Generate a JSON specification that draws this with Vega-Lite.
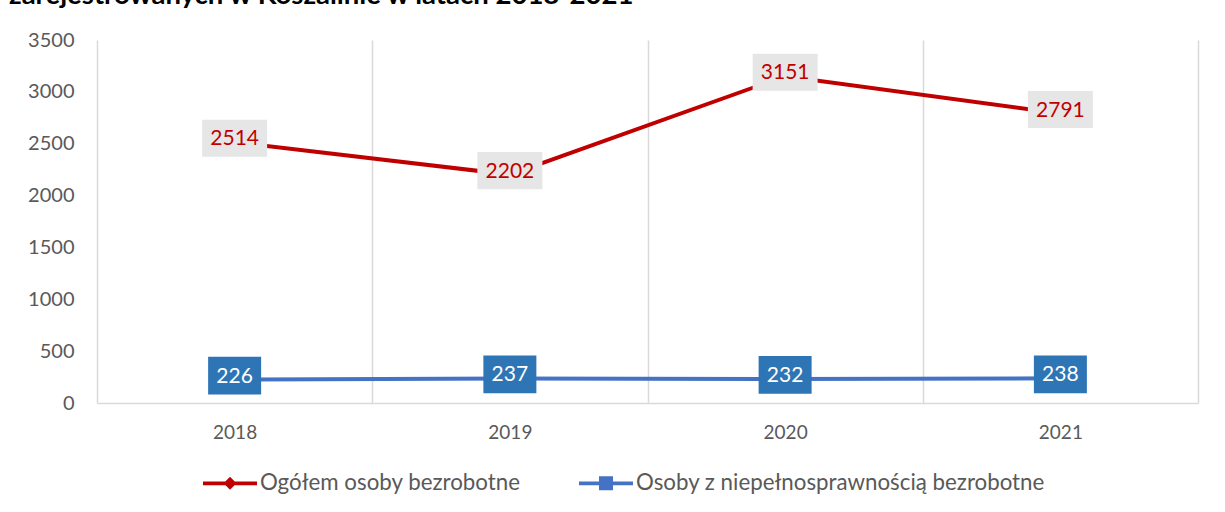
{
  "$schema": "https://vega.github.io/schema/vega-lite/v6.json",
  "width": 1101,
  "height": 363,
  "autosize": {"type": "none"},
  "padding": {"left": 97, "top": 40, "right": 27, "bottom": 109},
  "title": {
    "text": "zarejestrowanych w Koszalinie w latach 2018-2021",
    "anchor": "start",
    "frame": "group",
    "dx": -88,
    "offset": 8,
    "dy": 9,
    "baseline": "alphabetic",
    "font": "Lato",
    "fontSize": 27.5,
    "fontWeight": "bold",
    "color": "#000000"
  },
  "config": {
    "view": {"stroke": null},
    "font": "Lato"
  },
  "data": {
    "values": [
      {"rok": "2018", "seria": "Ogółem osoby bezrobotne", "wartosc": 2514},
      {"rok": "2019", "seria": "Ogółem osoby bezrobotne", "wartosc": 2202},
      {"rok": "2020", "seria": "Ogółem osoby bezrobotne", "wartosc": 3151},
      {"rok": "2021", "seria": "Ogółem osoby bezrobotne", "wartosc": 2791},
      {"rok": "2018", "seria": "Osoby z niepełnosprawnością bezrobotne", "wartosc": 226},
      {"rok": "2019", "seria": "Osoby z niepełnosprawnością bezrobotne", "wartosc": 237},
      {"rok": "2020", "seria": "Osoby z niepełnosprawnością bezrobotne", "wartosc": 232},
      {"rok": "2021", "seria": "Osoby z niepełnosprawnością bezrobotne", "wartosc": 238}
    ]
  },
  "encoding": {
    "x": {
      "field": "rok",
      "type": "ordinal",
      "scale": {"paddingInner": 0, "paddingOuter": 0},
      "axis": {
        "title": null,
        "labelAngle": 0,
        "domain": true,
        "domainColor": "#d9d9d9",
        "domainWidth": 1.5,
        "ticks": false,
        "grid": true,
        "gridColor": "#d9d9d9",
        "gridWidth": 1.5,
        "tickBand": "extent",
        "labelFont": "Lato",
        "labelFontSize": 19,
        "labelColor": "#595959",
        "labelPadding": 20
      }
    },
    "y": {
      "field": "wartosc",
      "type": "quantitative",
      "scale": {"domain": [0, 3500], "nice": false},
      "axis": {
        "title": null,
        "domain": false,
        "ticks": false,
        "grid": false,
        "format": "d",
        "values": [0, 500, 1000, 1500, 2000, 2500, 3000, 3500],
        "labelFont": "Lato",
        "labelFontSize": 20,
        "labelColor": "#595959",
        "labelPadding": 23
      }
    }
  },
  "layer": [
    {
      "mark": {"type": "line", "strokeWidth": 4},
      "encoding": {
        "color": {
          "field": "seria",
          "type": "nominal",
          "scale": {
            "domain": ["Ogółem osoby bezrobotne", "Osoby z niepełnosprawnością bezrobotne"],
            "range": ["#c00000", "#4472c4"]
          },
          "legend": {
            "title": null,
            "orient": "none",
            "legendX": 106,
            "legendY": 416,
            "direction": "horizontal",
            "labelFont": "Lato",
            "labelFontSize": 22.3,
            "labelColor": "#595959",
            "labelOffset": 3,
            "labelLimit": 0,
            "columnPadding": 58,
            "symbolSize": 2916,
            "symbolType": "M-1,-0.07H1V0.07H-1Z",
            "symbolStrokeWidth": 0,
            "encode": {
              "symbols": {
                "update": {
                  "shape": {"signal": "datum.value === 'Ogółem osoby bezrobotne' ? 'M-1,-0.07H1V0.07H-1ZM0,-0.24L0.24,0L0,0.24L-0.24,0Z' : 'M-1,-0.07H1V0.07H-1ZM-0.26,-0.26H0.26V0.26H-0.26Z'"},
                  "fill": {"signal": "datum.value === 'Ogółem osoby bezrobotne' ? '#c00000' : '#4472c4'"},
                  "strokeWidth": {"value": 0},
                  "opacity": {"value": 1}
                }
              }
            }
          }
        }
      }
    },
    {
      "mark": {"type": "point", "filled": true, "opacity": 1, "strokeWidth": 0},
      "encoding": {
        "shape": {
          "condition": {"test": "datum.seria === 'Ogółem osoby bezrobotne'", "value": "M-1,-0.57H1V0.57H-1Z"},
          "value": "M-1,-0.71H1V0.71H-1Z"
        },
        "size": {
          "condition": {"test": "datum.seria === 'Ogółem osoby bezrobotne'", "value": 4225},
          "value": 2809
        },
        "fill": {
          "condition": {"test": "datum.seria === 'Ogółem osoby bezrobotne'", "value": "#e7e6e6"},
          "value": "#2e75b6"
        },
        "yOffset": {
          "condition": {"test": "datum.seria === 'Ogółem osoby bezrobotne'", "value": 0},
          "value": -4
        }
      }
    },
    {
      "mark": {"type": "text", "fontSize": 21, "font": "Lato", "baseline": "middle", "dy": 1},
      "encoding": {
        "text": {"field": "wartosc", "type": "quantitative"},
        "color": {
          "condition": {"test": "datum.seria === 'Ogółem osoby bezrobotne'", "value": "#c00000"},
          "value": "#ffffff"
        },
        "yOffset": {
          "condition": {"test": "datum.seria === 'Ogółem osoby bezrobotne'", "value": 0},
          "value": -4
        }
      }
    }
  ]
}
